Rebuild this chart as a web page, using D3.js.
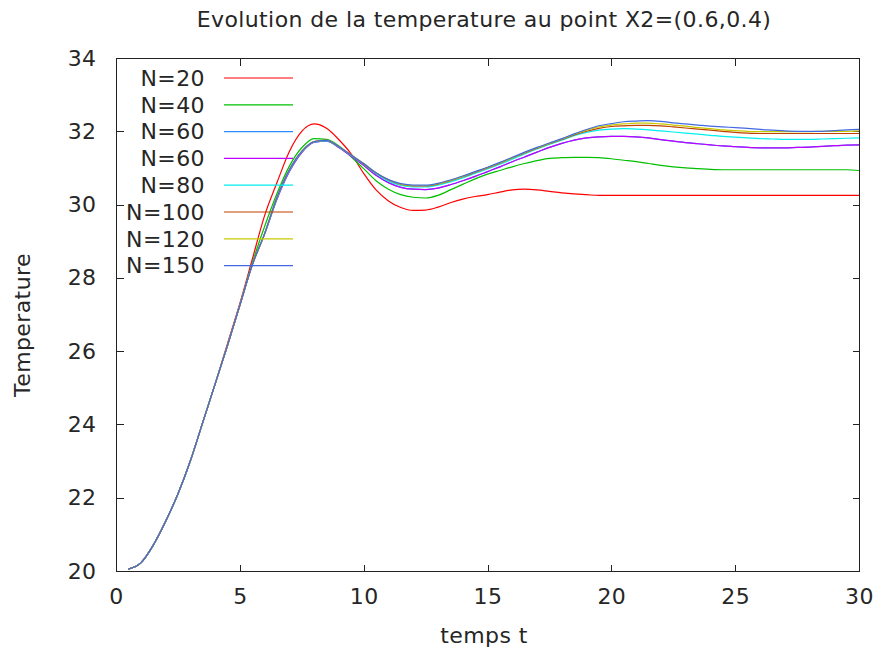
<!DOCTYPE html>
<html>
<head>
<meta charset="utf-8">
<script src="https://cdn.jsdelivr.net/npm/d3@7"></script>
<style>
  html, body { margin: 0; padding: 0; background: #fff; }
  svg text { font-family: "DejaVu Sans", sans-serif; fill: #262626; letter-spacing: 0.4px; }
</style>
</head>
<body>
<svg id="chart" width="874" height="652"></svg>
<script>
const titleText = "Evolution de la temperature au point X2=(0.6,0.4)";
const xLabel = "temps t";
const yLabel = "Temperature";
const xTicks = [0, 5, 10, 15, 20, 25, 30];
const yTicks = [20, 22, 24, 26, 28, 30, 32, 34];

const times = [0.5,1,1.5,2,2.5,3,3.5,4,4.5,5,
  5.5,6,6.5,7,7.5,8,8.5,9,9.5,10,
  10.5,11,11.5,12,12.5,13,13.5,14,14.5,15,
  15.5,16,16.5,17,17.5,18,18.5,19,19.5,20,
  20.5,21,21.5,22,22.5,23,23.5,24,24.5,25,
  25.5,26,26.5,27,27.5,28,28.5,29,29.5,30];

const seriesNames = ["N=20","N=40","N=60","N=60","N=80","N=100","N=120","N=150"];
const seriesColors = ["#ff0000","#00c000","#2b8cff","#c000ff","#00eeee","#c04000","#c8c800","#4169e1"];

const n20 = [20.05,20.22,20.7,21.35,22.1,23.0,24.05,25.1,26.2,27.3,
  28.5,29.7,30.6,31.45,32.0,32.2,32.08,31.77,31.38,30.85,
  30.4,30.1,29.92,29.84,29.85,29.93,30.05,30.15,30.22,30.27,
  30.34,30.4,30.42,30.4,30.36,30.32,30.29,30.27,30.25,30.25,
  30.25,30.25,30.25,30.25,30.25,30.25,30.25,30.25,30.25,30.25,
  30.25,30.25,30.25,30.25,30.25,30.25,30.25,30.25,30.25,30.25];
const n40 = [20.05,20.22,20.7,21.35,22.1,23.0,24.05,25.1,26.15,27.25,
  28.4,29.4,30.3,31.05,31.55,31.8,31.78,31.6,31.3,30.98,
  30.65,30.42,30.27,30.2,30.18,30.25,30.4,30.55,30.7,30.83,
  30.93,31.03,31.12,31.2,31.26,31.28,31.29,31.29,31.28,31.25,
  31.21,31.17,31.12,31.07,31.03,31.0,30.98,30.96,30.95,30.95,
  30.95,30.95,30.95,30.95,30.95,30.95,30.95,30.95,30.95,30.93];
const n60a = [20.05,20.22,20.7,21.35,22.1,23.0,24.05,25.1,26.15,27.25,
  28.35,29.2,30.15,30.9,31.42,31.7,31.73,31.56,31.32,31.07,
  30.8,30.6,30.47,30.42,30.41,30.45,30.54,30.65,30.77,30.9,
  31.03,31.17,31.3,31.43,31.56,31.67,31.76,31.82,31.85,31.86,
  31.86,31.85,31.82,31.77,31.73,31.69,31.66,31.63,31.6,31.58,
  31.56,31.55,31.55,31.55,31.56,31.57,31.59,31.61,31.62,31.63];
const n60b = [20.05,20.22,20.7,21.35,22.1,23.0,24.05,25.1,26.15,27.25,
  28.35,29.2,30.15,30.9,31.42,31.7,31.73,31.56,31.32,31.07,
  30.8,30.6,30.47,30.42,30.41,30.45,30.54,30.65,30.77,30.9,
  31.03,31.17,31.3,31.43,31.56,31.67,31.76,31.82,31.85,31.86,
  31.86,31.85,31.82,31.77,31.73,31.69,31.66,31.63,31.6,31.58,
  31.56,31.55,31.55,31.55,31.56,31.57,31.59,31.61,31.62,31.63];
const n80 = [20.05,20.22,20.7,21.35,22.1,23.0,24.05,25.1,26.15,27.25,
  28.35,29.2,30.18,30.93,31.44,31.71,31.74,31.57,31.34,31.1,
  30.84,30.64,30.52,30.48,30.48,30.53,30.62,30.73,30.85,30.97,
  31.1,31.24,31.38,31.52,31.64,31.76,31.88,31.97,32.03,32.06,
  32.07,32.06,32.04,32.01,31.98,31.95,31.92,31.89,31.86,31.84,
  31.82,31.8,31.79,31.78,31.78,31.78,31.79,31.8,31.81,31.82];
const n100 = [20.05,20.22,20.7,21.35,22.1,23.0,24.05,25.1,26.15,27.25,
  28.35,29.2,30.2,30.95,31.45,31.72,31.75,31.58,31.35,31.11,
  30.86,30.67,30.55,30.51,30.51,30.56,30.65,30.76,30.88,31.0,
  31.13,31.27,31.41,31.54,31.66,31.78,31.9,32.0,32.08,32.13,
  32.15,32.16,32.16,32.15,32.12,32.09,32.06,32.03,32.0,31.97,
  31.95,31.94,31.94,31.94,31.94,31.94,31.94,31.94,31.94,31.94];
const n120 = [20.05,20.22,20.7,21.35,22.1,23.0,24.05,25.1,26.15,27.25,
  28.35,29.2,30.2,30.95,31.45,31.72,31.75,31.58,31.35,31.12,
  30.87,30.68,30.56,30.52,30.52,30.57,30.66,30.77,30.89,31.01,
  31.14,31.28,31.42,31.55,31.67,31.79,31.92,32.03,32.12,32.17,
  32.2,32.22,32.22,32.2,32.17,32.14,32.1,32.07,32.04,32.02,
  32.0,31.99,31.99,31.99,31.99,31.99,32.0,32.0,32.0,32.01];
const n150 = [20.05,20.22,20.7,21.35,22.1,23.0,24.05,25.1,26.15,27.25,
  28.35,29.2,30.2,30.95,31.45,31.72,31.75,31.58,31.35,31.12,
  30.87,30.68,30.57,30.53,30.53,30.58,30.67,30.78,30.9,31.02,
  31.15,31.29,31.43,31.56,31.68,31.8,31.93,32.05,32.15,32.21,
  32.26,32.28,32.29,32.27,32.23,32.2,32.17,32.14,32.12,32.1,
  32.08,32.05,32.03,32.01,32.0,32.0,32.0,32.02,32.04,32.05];

const seriesValues = [n20, n40, n60a, n60b, n80, n100, n120, n150];

const svg = d3.select("#chart");
const L = 116, R = 859, T = 58, B = 571;
const x = d3.scaleLinear().domain([0, 30]).range([L, R]);
const y = d3.scaleLinear().domain([20, 34]).range([B, T]);
const tickLen = 7;
const fs = 22;

// frame
svg.append("rect").attr("x", L + 0.5).attr("y", T + 0.5)
  .attr("width", R - L).attr("height", B - T)
  .attr("fill", "none").attr("stroke", "#222").attr("stroke-width", 1);

// axes via d3 (inward ticks, mirrored)
const ax = (g, axis) => { g.call(axis); g.select(".domain").remove(); g.selectAll("line").attr("stroke", "#222"); };
svg.append("g").attr("transform", `translate(0,${B + 0.5})`)
  .call(g => ax(g, d3.axisBottom(x).tickValues(xTicks).tickSize(-tickLen).tickPadding(13)))
  .selectAll("text").attr("font-size", fs).attr("fill", "#262626").attr("dy", "0.9em").attr("font-family", "DejaVu Sans");
svg.append("g").attr("transform", `translate(0,${T + 0.5})`)
  .call(g => ax(g, d3.axisTop(x).tickValues(xTicks).tickSize(-tickLen).tickFormat("")));
svg.append("g").attr("transform", `translate(${L + 0.5},0)`)
  .call(g => ax(g, d3.axisLeft(y).tickValues(yTicks).tickSize(-tickLen).tickPadding(20)))
  .selectAll("text").attr("font-size", fs).attr("fill", "#262626").attr("font-family", "DejaVu Sans");
svg.append("g").attr("transform", `translate(${R + 0.5},0)`)
  .call(g => ax(g, d3.axisRight(y).tickValues(yTicks).tickSize(-tickLen).tickFormat("")));
svg.selectAll(".tick line").attr("shape-rendering", "crispEdges");

// lines
const line = d3.line().x((d, i) => x(times[i])).y(d => y(d)).curve(d3.curveMonotoneX);
seriesValues.forEach((vals, k) => {
  svg.append("path").datum(vals).attr("d", line)
    .attr("fill", "none").attr("stroke", seriesColors[k]).attr("stroke-width", 1.2);
});

// legend
const legY0 = 78, legDy = 26.8;
seriesNames.forEach((name, k) => {
  const yy = legY0 + k * legDy;
  svg.append("text").attr("x", 205).attr("y", yy).attr("dy", "0.35em")
    .attr("text-anchor", "end").attr("font-size", fs).text(name);
  svg.append("line").attr("x1", 224).attr("x2", 293).attr("y1", yy).attr("y2", yy)
    .attr("stroke", seriesColors[k]).attr("stroke-width", 1.2);
});

// titles
svg.append("text").attr("x", 484).attr("y", 27).attr("text-anchor", "middle")
  .attr("font-size", fs).text(titleText);
svg.append("text").attr("x", 484).attr("y", 643).attr("text-anchor", "middle")
  .attr("font-size", fs).text(xLabel);
svg.append("text").attr("transform", "translate(30,325) rotate(-90)").attr("text-anchor", "middle")
  .attr("font-size", fs).text(yLabel);
</script>
</body>
</html>
